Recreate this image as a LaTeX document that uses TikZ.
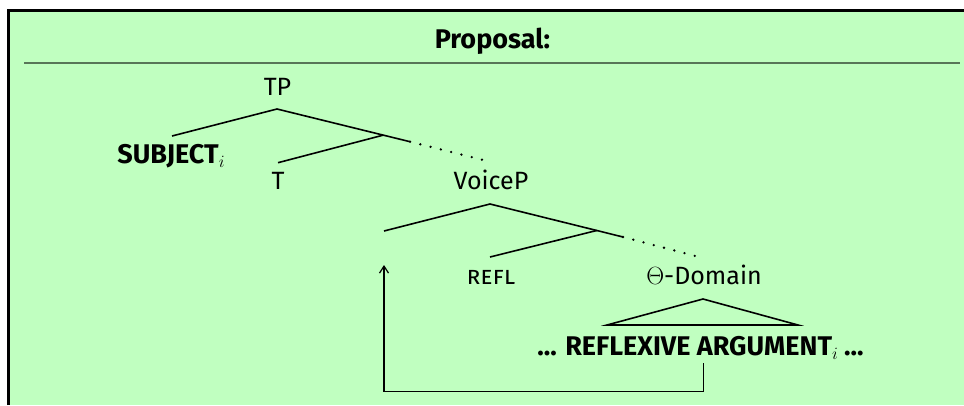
\documentclass[tikz,border=0pt]{standalone}
\usepackage{fontspec}
\setmainfont[BoldFont={Fira Sans Bold}]{Fira Sans}
\usetikzlibrary{arrows.meta}
\definecolor{bgreen}{RGB}{192,255,192}
\definecolor{sepgreen}{RGB}{88,118,88}
\newcommand\subidx{\raisebox{-4.5pt}{\fontsize{19}{19}\selectfont$i$}}
\begin{document}
\begin{tikzpicture}[x=1pt,y=-1pt,
  lbl/.style={font=\fontsize{25}{30}\selectfont, inner sep=0pt, anchor=base},
  blbl/.style={font=\fontsize{27}{32}\selectfont\bfseries, inner sep=0pt, anchor=base},
  branch/.style={line width=1.6pt},
  dotbranch/.style={line width=2.6pt, line cap=round, dash pattern=on 0pt off 10.6pt},
  movearrow/.style={line width=1.6pt, -{Straight Barb[length=7pt,width=9pt,line width=1.2pt]}}]
\useasboundingbox (0,0) rectangle (964,405);
\fill[bgreen] (8.5,10.5) rectangle (964,405);
\draw[line width=3pt] (8.5,405) -- (8.5,10.5) -- (964,10.5);
\draw[sepgreen, line width=2pt] (24,62.7) -- (960,62.7);
\node[blbl] (title) at (492.5,48.3) {Proposal:};
% labels
\node[lbl] (TP) at (277.5,95) {TP};
\node[blbl] (subj) at (171,163) {SUBJECT\subidx};
\node[lbl] (T) at (278,189.3) {T};
\node[lbl] (voiceP) at (491,189.3) {VoiceP};
\node[lbl] (refl) at (491,284.3) {\textsc{refl}};
\node[lbl] (theta) at (704,284.3) {$\Theta$-Domain};
\node[blbl] (arg) at (700.5,355) {... REFLEXIVE ARGUMENT\subidx{} ...};
% TP level
\coordinate (tpApex) at (277,109);
\coordinate (subjTop) at (172,136);
\coordinate (tpJoin) at (383,135.2);
\coordinate (tpSolid) at (410,141.7);
\coordinate (tpDots) at (490,161.7);
\coordinate (tTop) at (278,162.7);
\draw[branch] (subjTop) -- (tpApex) -- (tpSolid);
\draw[branch] (tTop) -- (tpJoin);
\draw[dotbranch] (tpSolid) -- (tpDots);
% VoiceP level
\coordinate (vApex) at (490,204);
\coordinate (specTop) at (384,231);
\coordinate (vJoin) at (596.7,230.5);
\coordinate (vSolid) at (623,237);
\coordinate (vDots) at (703,258);
\coordinate (reflTop) at (490,257);
\draw[branch] (specTop) -- (vApex) -- (vSolid);
\draw[branch] (reflTop) -- (vJoin);
\draw[dotbranch] (vSolid) -- (vDots);
% triangle
\coordinate (triApex) at (703,299);
\coordinate (triL) at (607,325);
\coordinate (triR) at (798,325);
\draw[branch, line join=miter] (triL) -- (triApex) -- (triR) -- cycle;
% movement arrow
\coordinate (argFoot) at (703.3,363);
\coordinate (bend) at (540,391.5);
\coordinate (trace) at (384,265);
\draw[movearrow] (argFoot) |- (bend) -| (trace);
\end{tikzpicture}
\end{document}
